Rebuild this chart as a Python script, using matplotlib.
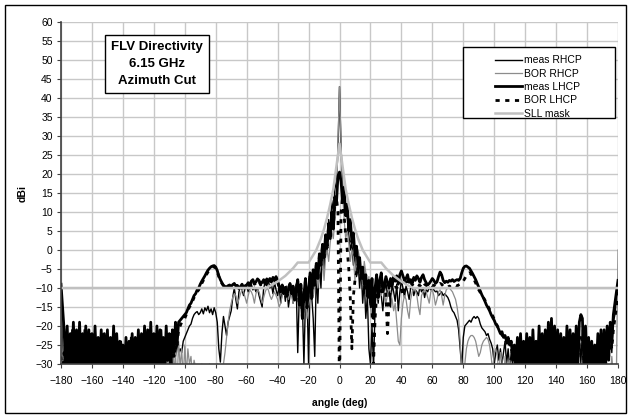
import numpy as np
import matplotlib
matplotlib.use("Agg")
import matplotlib.pyplot as plt
from matplotlib.patches import Rectangle

# angle grid (deg), 1 deg step
angle = np.arange(-180, 181)

# measured RHCP (dBi)
meas_rhcp = [
    -12, -25, -32, -22, -31, -24, -33, -21, -30, -26,
    -33, -22, -31, -25, -32, -21, -30, -24, -33, -22,
    -31, -24, -32, -23, -30, -25, -33, -22, -31, -24,
    -32, -23, -30, -26, -33, -22, -31, -25, -32, -24,
    -30, -26, -33, -25, -31, -23, -32, -26, -30, -24,
    -33, -23, -31, -22, -30, -24, -32, -21, -31, -23,
    -30, -22, -32, -24, -31, -21, -30, -23, -32, -25,
    -30, -26, -31, -25, -28, -24, -27, -26, -27, -24,
    -23, -22, -21, -20, -19.5, -18, -17, -16.5, -16.2, -17,
    -16.5, -15.5, -16.8, -15.2, -16, -14.8, -16.5, -15.5, -17, -15.2,
    -16.5, -19, -26, -29.5, -22, -17.5, -20, -22.5, -19, -17.5,
    -16, -12.5, -10, -13, -15.5, -11, -9.5, -10.5, -12, -10,
    -9.5, -11, -10.2, -9, -10.5, -9.8, -11, -10, -12, -13.5,
    -15, -10, -8.5, -9.5, -8, -10, -9, -11.5, -8.5, -10.5,
    -12, -9.5, -14, -11, -10, -13.5, -9.5, -15, -12, -10,
    -14, -11, -9, -27, -12, -10, -14, -30, -13, -11,
    -30, -8, -12, -18, -28, -6, -14, -3, -10, 0,
    -5, 3, -1, 8, 5, 13, 10, 16, 18, 26,
    43,
    27, 17, 14, 11, 9, 4, 0, 2, -4, -1,
    -7, -3, -10, -5, -14, -8, -18, -12, -26, -30,
    -20, -31, -15, -10, -14, -9, -12, -16, -11, -8.5,
    -12, -10, -15, -9, -11, -13.5, -9, -16, -11, -8,
    -10, -12.5, -9.5, -11, -13, -10, -9.5, -12, -10.5, -11,
    -12, -9.5, -11, -10, -12.5, -10.5, -11, -9.8, -10.5, -10,
    -10.5, -11, -10.8, -12, -11.5, -11, -12, -11.5, -12, -12.5,
    -13.5, -15, -16, -16.5, -17.5, -18.5, -21, -26, -31, -23,
    -20, -19.5, -19, -18.5, -19, -18, -17.5, -18, -17.5, -18,
    -19.5, -20.5, -21, -21.5, -22.5, -22, -23.5, -24.5, -26, -30,
    -27, -25, -29, -26, -30, -27, -24, -30, -26, -31,
    -27, -31, -25, -30, -26, -32, -24, -30, -27, -31,
    -25, -31, -26, -30, -24, -32, -27, -30, -23, -31,
    -26, -30, -24, -31, -22, -30, -23, -31, -24, -30,
    -25, -31, -24, -30, -26, -32, -23, -30, -25, -31,
    -24, -30, -23, -31, -22, -30, -21, -31, -24, -30,
    -26, -31, -25, -30, -27, -31, -24, -30, -25, -31,
    -23, -30, -22, -29, -21, -27, -19, -17, -13, -11,
]

# BOR computed RHCP (dBi)
bor_rhcp = [
    -12, -34, -28, -38, -27, -36, -29, -40, -28, -35,
    -30, -38, -27, -36, -29, -39, -28, -35, -30, -37,
    -28, -36, -29, -40, -27, -35, -30, -38, -28, -36,
    -29, -37, -27, -35, -30, -39, -28, -36, -29, -38,
    -27, -35, -30, -37, -28, -36, -29, -40, -27, -35,
    -30, -38, -28, -36, -27, -35, -29, -39, -28, -36,
    -27, -34, -29, -37, -26, -35, -28, -38, -27, -33,
    -26, -35, -25, -32, -27, -36, -24, -31, -26, -34,
    -25, -33, -26, -30, -28, -33, -29, -31, -34, -36,
    -32, -30, -31, -33, -35, -31, -30, -34, -36, -32,
    -31, -30, -33, -36, -34, -30, -27, -23, -19, -16,
    -14, -12.5, -11.5, -12, -14, -13, -11.5, -10.5, -11, -12.5,
    -14, -12, -10.5, -11, -12, -14, -11.5, -10.5, -11, -12.5,
    -14, -12.5, -11, -10, -10.5, -12, -13, -12, -11, -12,
    -13, -15, -14, -12, -11, -12, -11, -13, -11, -12,
    -14, -11, -9.5, -12, -10, -13, -11, -12, -14, -18,
    -15, -12, -10, -12.5, -9, -7, -10, -6, -3, -1,
    -8, -2, 0, -3, 2, 5, 3, 8, 15, 28,
    43,
    28, 15, 8, 3, 5, 2, -3, 0, -2, -8,
    -1, 0, -2, -6, -9, -3, -6, -10, -7, -15,
    -18, -14, -12, -11, -13, -10, -12, -9.5, -11, -14,
    -12, -10, -11, -13, -16, -14, -19, -24, -25, -18,
    -14, -12, -13, -16, -18, -13, -11, -10, -10.5, -12,
    -15, -17, -12, -11, -10.5, -11, -12.5, -14, -11, -10.5,
    -12, -14.5, -13, -11, -10.5, -12, -14.5, -12, -10.5, -10,
    -10, -10.5, -11, -12, -13, -15, -18, -24, -32, -35,
    -30, -26, -24, -23, -22.5, -22.5, -23, -24, -26, -28,
    -27, -25, -24, -23.5, -23, -23.5, -25, -28, -32, -27,
    -26, -28, -33, -27, -29, -35, -28, -31, -38, -29,
    -32, -37, -28, -34, -39, -29, -33, -36, -28, -35,
    -30, -38, -29, -34, -37, -28, -33, -39, -30, -35,
    -29, -36, -31, -38, -28, -34, -37, -29, -33, -39,
    -30, -35, -28, -37, -32, -38, -29, -34, -36, -30,
    -33, -39, -28, -35, -31, -37, -29, -34, -38, -30,
    -32, -36, -29, -38, -31, -35, -28, -37, -33, -30,
    -35, -29, -36, -31, -34, -28, -33, -30, -31, 0,
]

# measured LHCP (dBi)
meas_lhcp = [
    -9, -15, -21, -31, -20, -31, -22, -31, -19, -31,
    -21, -31, -19, -31, -22, -31, -20, -31, -21, -32,
    -22, -31, -20, -31, -23, -31, -21, -31, -22, -31,
    -21, -32, -23, -31, -20, -31, -22, -31, -24, -31,
    -25, -32, -23, -31, -24, -31, -22, -31, -23, -32,
    -21, -31, -22, -31, -20, -31, -21, -32, -19, -31,
    -22, -31, -20, -31, -21, -31, -23, -31, -20, -29,
    -22, -31, -21, -27, -19, -25, -19, -18.5, -18, -17.5,
    -17, -16.5, -15.5, -14.5, -14, -13, -12, -11.5, -10.5, -10,
    -9, -8.2, -7.5, -6.8, -6, -5.3, -4.8, -4.4, -4.2, -4.1,
    -4.5, -5.4, -6.8, -7.8, -8.6, -9.3, -9.6, -9.7, -9.4, -9.2,
    -9.6, -9.1, -8.8, -9.5, -9.3, -10.2, -9.6, -9.0, -9.8, -9.4,
    -9.2, -8.6, -9.4, -8.2, -7.8, -8.8, -8.4, -7.6, -8.0, -9.0,
    -8.5, -7.8, -8.8, -7.6, -8.2, -7.5, -8.4, -7.2, -7.8, -7.0,
    -8.2, -9.5, -10.8, -9.2, -11.5, -9.8, -12.0, -10.5, -8.8, -11.2,
    -9.5, -13.0, -10.2, -7.8, -14.5, -9.0, -18.0, -12.0, -7.5, -15.0,
    -10.5, -6.0, -12.5, -5.2, -9.0, -3.5, -7.5, -1.0, -4.0, 1.5,
    -2.0, 4.0, 1.0, 7.0, 3.5, 10.0, 6.0, 14.0, 12.0, 19.5,
    20.5,
    18.0, 13.0, 16.5, 9.0, 12.0, 5.0, 8.0, 2.0, 4.5, -1.5,
    1.0, -4.0, -2.0, -7.5, -4.5, -9.0, -6.5, -12.0, -8.0, -14.0,
    -7.5, -18.0, -10.0, -6.5, -12.5, -8.0, -6.0, -11.0, -9.0, -7.0,
    -8.5, -10.0, -7.5, -9.5, -7.0, -8.2, -6.8, -9.0, -6.5, -5.5,
    -6.8, -8.0, -7.5, -6.5, -8.5, -7.8, -8.8, -7.2, -8.0, -6.8,
    -7.5, -8.5, -7.2, -6.5, -7.8, -8.6, -9.2, -8.8, -8.2, -7.5,
    -8.0, -8.8, -8.4, -7.0, -5.8, -6.5, -8.0, -8.6, -8.2, -8.5,
    -8.0, -8.2, -7.8, -8.3, -8.0, -7.8, -8.0, -7.5, -6.0, -4.8,
    -4.3, -4.2, -4.5, -4.8, -5.5, -6.2, -7.0, -7.8, -8.8, -9.8,
    -10.8, -11.8, -12.6, -13.5, -14.5, -15.2, -16.0, -17.0, -17.8, -18.5,
    -19.5, -20.0, -21.0, -22.0, -21.5, -23.0, -22.5, -24.0, -23.0, -25.0,
    -24, -29, -25, -31, -23, -31, -22, -31, -24, -31,
    -22, -31, -23, -31, -21, -31, -24, -31, -20, -31,
    -22, -31, -21, -31, -19, -31, -18, -31, -20, -31,
    -21, -31, -22, -31, -23, -31, -20, -31, -21, -31,
    -22, -31, -20, -31, -19, -17, -18, -31, -20, -31,
    -23, -31, -24, -31, -25, -31, -22, -31, -21, -31,
    -21, -31, -20, -29, -19, -24, -17, -14, -11, -8,
]

# BOR computed LHCP (dBi)
bor_lhcp = [
    -28, -33, -27, -31, -29, -34, -26, -32, -28, -35,
    -27, -31, -29, -33, -26, -32, -28, -30, -27, -34,
    -29, -31, -26, -33, -28, -30, -27, -35, -29, -32,
    -26, -31, -28, -34, -27, -30, -29, -33, -26, -32,
    -28, -35, -27, -31, -29, -33, -26, -30, -28, -34,
    -27, -32, -29, -30, -26, -33, -28, -31, -27, -34,
    -29, -32, -26, -30, -28, -33, -27, -31, -25, -29,
    -27, -30, -24, -28, -23, -25, -21, -20, -19, -18.5,
    -18, -17, -16, -15, -14.5, -13.5, -12.5, -12, -11, -10.5,
    -9.5, -8.8, -8, -7.2, -6.5, -5.8, -5.2, -4.8, -4.5, -4.4,
    -4.8, -5.8, -7, -8, -8.8, -9.4, -9.8, -10, -9.8, -9.6,
    -9.8, -9.5, -9.2, -9.8, -9.6, -10.4, -9.8, -9.4, -10, -9.7,
    -9.5, -9, -9.6, -8.6, -8.2, -9, -8.7, -8, -8.3, -9.2,
    -8.8, -8.2, -9, -8, -8.5, -7.9, -8.7, -7.6, -8.1, -7.4,
    -8.5, -9.8, -11, -9.5, -11.8, -10, -12.2, -10.8, -9.2, -11.5,
    -9.8, -13.2, -10.5, -8.2, -14.8, -9.3, -18, -12.3, -8, -15.2,
    -11, -6.5, -12.8, -5.6, -9.3, -4, -7.8, -1.5, -4.3, 1,
    -2.4, 3.5, 0.6, 6.5, 3, 9.5, 5.5, 13.5, 14, 10,
    -40,
    10, 14, 9, 4, 0, -5, -13, -26, -12, -8,
    -6, -4, -5, -7, -6, -9, -11, -12, -13, -14,
    -16, -30, -18, -12, -10, -9, -11, -10, -9, -12,
    -22, -14, -10, -9, -8.5, -9.5, -10, -9, -8, -10.5,
    -12, -9, -8.5, -8.2, -9, -8.5, -9.2, -8.8, -8.6, -9,
    -9.2, -9.5, -8.8, -8.4, -9, -9.3, -9.6, -9.4, -9.1, -9.5,
    -9.3, -9.6, -9.4, -9.2, -8.8, -9, -9.5, -9.8, -9.6, -9.8,
    -9.5, -9.7, -9.4, -9.6, -9.3, -9.5, -9.2, -9, -8.6, -8.2,
    -7.5, -6.8, -6.2, -6, -6.3, -7, -7.8, -8.7, -9.6, -10.5,
    -11.2, -11.8, -12.5, -13.2, -14, -14.8, -15.6, -16.5, -17.3, -18.2,
    -19, -20, -20.8, -21.5, -22.4, -23, -23.6, -24.2, -25, -25.5,
    -26, -28, -26.5, -29, -27, -30, -26.5, -29, -27, -31,
    -27, -30, -28, -31, -26, -30, -27, -32, -26, -29,
    -27, -31, -26, -30, -25, -29, -24, -30, -26, -31,
    -27, -30, -26, -31, -27, -32, -25, -30, -26, -31,
    -27, -30, -25, -29, -24, -23, -24, -30, -25, -31,
    -27, -31, -28, -32, -28, -30, -26, -31, -25, -30,
    -25, -29, -24, -28, -23, -26, -21, -18, -15, -11,
]

# sidelobe level mask
mask_angle = [-180, -48, -45, -40, -35, -30, -27, -20, -18, -15, -12, -10, -8,
              -6, -4, -2, 0, 2, 4, 6, 8, 10, 12, 15, 18, 20, 27, 30, 35, 40,
              45, 48, 180]
mask_val = [-10, -10, -9.5, -8.3, -6.8, -4.8, -3.3, -3.3, -2, 0, 3, 5.5, 8.5,
            12, 16, 22, 28, 22, 16, 12, 8.5, 5.5, 3, 0, -2, -3.3, -3.3, -4.8,
            -6.8, -8.3, -9.5, -10, -10]

xticks = list(range(-180, 181, 20))
yticks = list(range(-30, 61, 5))


def main():
    plt.rcParams['font.family'] = ['Liberation Sans', 'DejaVu Sans']
    fig = plt.figure(figsize=(6.31, 4.17), dpi=100)
    ax = fig.add_axes([61 / 631, 1 - 364 / 417, 557 / 631, 342 / 417])

    ax.plot(angle, meas_rhcp, color='black', lw=1.0, label='meas RHCP')
    ax.plot(angle, bor_rhcp, color='#8c8c8c', lw=0.9, label='BOR RHCP')
    ax.plot(angle, meas_lhcp, color='black', lw=2.0, label='meas LHCP')
    ax.plot(angle, bor_lhcp, color='black', lw=2.0, linestyle=(0, (1.5, 2)),
            label='BOR LHCP')
    ax.plot(mask_angle, mask_val, color='#c0c0c0', lw=1.8, label='SLL mask')

    ax.set_xlim(-180, 180)
    ax.set_ylim(-30, 60)
    ax.set_xticks(xticks)
    ax.set_yticks(yticks)
    ax.grid(True, color='#c8c8c8', lw=1.0)
    ax.set_axisbelow(True)
    for s in ['top', 'right']:
        ax.spines[s].set_visible(False)
    for s in ['left', 'bottom']:
        ax.spines[s].set_color('#404040')
        ax.spines[s].set_linewidth(1.2)
    ax.tick_params(labelsize=7.5, length=3, width=0.8, color='#404040')
    ax.tick_params(axis='x', pad=6)
    ax.tick_params(axis='y', pad=3)

    ax.set_xlabel('angle (deg)', fontsize=7.5, fontweight='bold', labelpad=8)
    ax.set_ylabel('dBi', fontsize=7.5, fontweight='bold', labelpad=5)

    ax.text(-118, 48.9, 'FLV Directivity\n6.15 GHz\nAzimuth Cut', fontsize=9.5,
            fontweight='bold', ha='center', va='center', linespacing=1.55,
            bbox=dict(boxstyle='square,pad=0.45', fc='white', ec='black', lw=1.0))

    # legend box drawn separately so the handles can sit right like Excel
    fig.patches.append(Rectangle((463 / 631, 1 - 118 / 417), 152 / 631, 71 / 417,
                                 transform=fig.transFigure, fc='white',
                                 ec='black', lw=1.0, zorder=3))
    leg = fig.legend(loc='upper left', bbox_to_anchor=(490 / 631, 1 - 50 / 417),
                     frameon=False, fontsize=7.5, handlelength=2.6,
                     handletextpad=0.2, borderpad=0, labelspacing=0.32)
    leg.set_zorder(4)

    fig.patches.append(Rectangle((5 / 631, 4 / 417), 621 / 631, 408 / 417,
                                 transform=fig.transFigure, fill=False,
                                 ec='black', lw=1.0))

    fig.savefig('out.png', dpi=100)


if __name__ == "__main__":
    main()
